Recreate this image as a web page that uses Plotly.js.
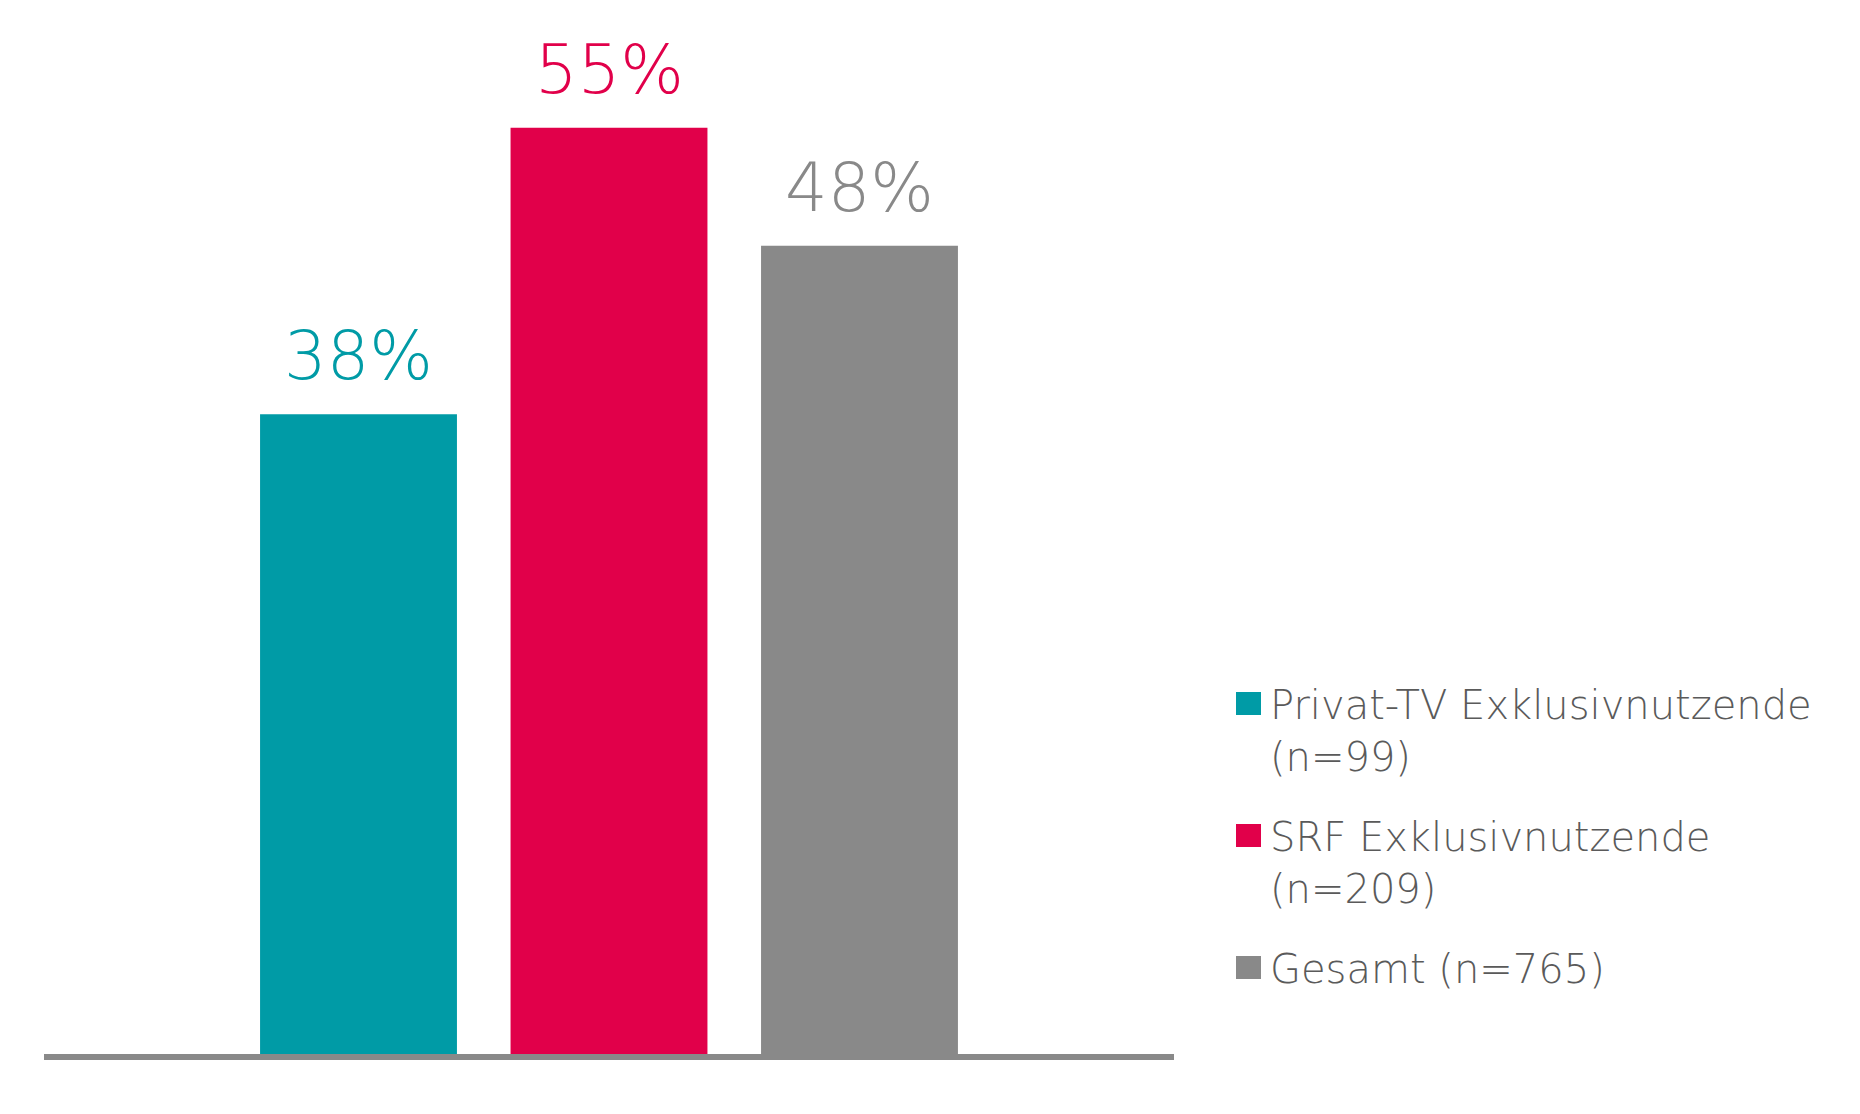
<!DOCTYPE html>
<html>
<head>
<meta charset="utf-8">
<script src="https://cdn.plot.ly/plotly-3.0.1.min.js"></script>
<style>html,body{margin:0;padding:0;background:#fff;}#chart{width:1860px;height:1114px;}</style>
</head>
<body>
<div id="chart"></div>
<script>
// Data
const categories = ['Privat-TV Exklusivnutzende', 'SRF Exklusivnutzende', 'Gesamt'];
const sampleSizes = [99, 209, 765];
const values = [38, 55, 48];
const valueLabels = ['38%', '55%', '48%'];
const legendLabels = ['Privat-TV Exklusivnutzende<br>(n=99)', 'SRF Exklusivnutzende<br>(n=209)', 'Gesamt (n=765)'];
const colors = ['#009BA6', '#E1004A', '#898989'];

const FONT = '"DejaVu Sans", "Open Sans", sans-serif';

const traces = categories.map((c, i) => ({
  type: 'bar',
  x: [c],
  y: [values[i]],
  name: legendLabels[i],
  width: 0.786,
  marker: {color: colors[i]},
  hoverinfo: 'skip',
  showlegend: false
}));

const annotations = categories.map((c, i) => ({
  xref: 'x', yref: 'y', x: c, y: values[i],
  text: valueLabels[i], showarrow: false,
  xanchor: 'center', yanchor: 'bottom', yshift: 17,
  font: {family: FONT, size: 67, color: colors[i], weight: 200}
}));

// custom legend (paper coords: plot area x 44..1174, y 1054..10)
const plotL = 44, plotW = 1130, plotB = 1054, plotH = 1044;
const px2x = p => (p - plotL) / plotW;
const px2y = p => (plotB - p) / plotH;
const legendTop = 692, legendStep = 132;
const shapes = [];
legendLabels.forEach((lab, i) => {
  const top = legendTop + i * legendStep;
  shapes.push({type: 'rect', xref: 'paper', yref: 'paper',
    x0: px2x(1236), x1: px2x(1261), y0: px2y(top), y1: px2y(top + 23),
    fillcolor: colors[i], line: {width: 0}});
  annotations.push({xref: 'paper', yref: 'paper', x: px2x(1268), y: px2y(top - 12),
    text: lab, showarrow: false, align: 'left', xanchor: 'left', yanchor: 'top',
    font: {family: FONT, size: 40, color: '#5A5A5A', weight: 200}});
});

const layout = {
  width: 1860, height: 1114,
  margin: {l: plotL, r: 1860 - plotL - plotW, t: 10, b: 1114 - plotB, pad: 0},
  paper_bgcolor: '#ffffff', plot_bgcolor: '#ffffff',
  barmode: 'overlay',
  showlegend: false,
  xaxis: {type: 'category', range: [-1.2555, 3.2555], showline: true, linecolor: '#898989', linewidth: 6,
    showticklabels: false, ticks: '', showgrid: false, zeroline: false, fixedrange: true},
  yaxis: {range: [0, 62], visible: false, showgrid: false, zeroline: false, fixedrange: true},
  annotations: annotations,
  shapes: shapes,
  font: {family: FONT}
};

Plotly.newPlot('chart', traces, layout, {displayModeBar: false, staticPlot: true});
</script>
</body>
</html>
